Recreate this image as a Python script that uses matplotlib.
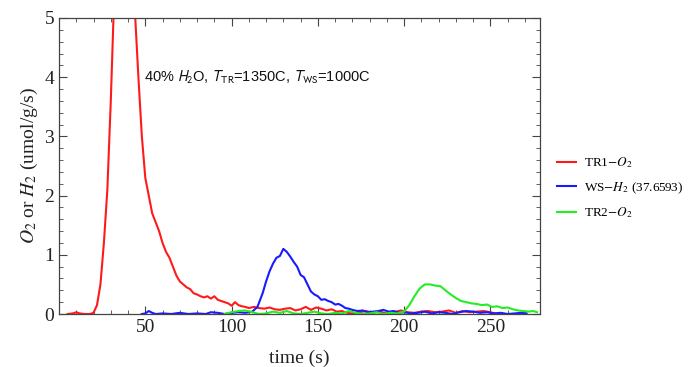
import numpy as np
import matplotlib
matplotlib.use('Agg')
import matplotlib.pyplot as plt
from matplotlib.font_manager import FontProperties
from matplotlib.ticker import MultipleLocator

# TR1 - O2 (red)
t_tr1 = [5, 8, 10, 12, 15, 18, 20, 22, 24, 26, 28, 30, 32, 35, 38, 41, 44, 46, 48, 50,
         52, 54, 56, 58, 60, 62, 64, 66, 68, 70, 72, 74, 76, 78, 80, 82, 84, 86, 88, 90,
         92, 94, 96, 98, 100, 102, 104, 106, 108, 110, 113, 116, 119, 122, 125, 128, 131,
         134, 137, 140, 143, 146, 149, 152, 155, 158, 161, 164, 167, 170, 174, 178, 182,
         186, 190, 194, 198, 202, 206, 210, 214, 218, 222, 226, 230, 234, 238, 242, 246,
         250, 254]
o2_tr1 = [0.0, 0.01, 0.03, 0.01, 0.0, 0.0, 0.02, 0.15, 0.5, 1.2, 2.1, 3.6, 5.4, 8.0, 9.5,
          7.6, 5.1, 4.0, 3.0, 2.3, 2.0, 1.7, 1.55, 1.4, 1.2, 1.05, 0.95, 0.8, 0.65, 0.55,
          0.5, 0.45, 0.42, 0.35, 0.33, 0.3, 0.28, 0.3, 0.26, 0.3, 0.24, 0.22, 0.2, 0.18,
          0.14, 0.2, 0.15, 0.13, 0.12, 0.1, 0.12, 0.1, 0.09, 0.11, 0.08, 0.07, 0.09, 0.1,
          0.06, 0.08, 0.12, 0.07, 0.11, 0.09, 0.06, 0.08, 0.04, 0.05, 0.02, 0.01, 0.03,
          0.05, 0.02, 0.04, 0.01, 0.03, 0.06, 0.03, 0.02, 0.04, 0.05, 0.03, 0.04, 0.06,
          0.02, 0.05, 0.03, 0.04, 0.05, 0.03, 0.0]

# WS - H2 (blue)
t_ws = [48, 50, 52, 54, 56, 60, 65, 70, 75, 80, 85, 88, 92, 96, 100, 104, 108, 112, 115,
        118, 120, 122, 124, 126, 128, 130, 132, 134, 136, 138, 140, 142, 144, 146, 148,
        150, 152, 154, 156, 158, 160, 162, 164, 166, 168, 170, 173, 176, 179, 182, 185,
        188, 191, 194, 197, 200, 204, 208, 212, 216, 220, 224, 228, 232, 236, 240, 244,
        248, 252, 256, 260, 264, 268, 271]
h2_ws = [0.0, 0.01, 0.05, 0.02, 0.0, 0.01, 0.0, 0.02, 0.0, 0.01, 0.0, 0.03, 0.02, 0.0,
         0.02, 0.03, 0.02, 0.04, 0.12, 0.35, 0.55, 0.72, 0.85, 0.95, 0.98, 1.1, 1.05, 0.97,
         0.88, 0.8, 0.66, 0.62, 0.5, 0.38, 0.33, 0.3, 0.24, 0.25, 0.22, 0.2, 0.16, 0.17,
         0.14, 0.1, 0.09, 0.07, 0.05, 0.06, 0.03, 0.04, 0.05, 0.07, 0.04, 0.05, 0.02, 0.03,
         0.01, 0.02, 0.04, 0.01, 0.03, 0.02, 0.0, 0.03, 0.05, 0.04, 0.02, 0.03, 0.01, 0.02,
         0.0, 0.01, 0.02, 0.01]

# TR2 - O2 (green)
t_tr2 = [96, 100, 104, 108, 112, 116, 120, 124, 128, 132, 136, 140, 144, 148, 152, 156,
         160, 164, 168, 172, 176, 180, 184, 188, 192, 196, 200, 203, 206, 209, 212, 215,
         218, 221, 224, 227, 230, 233, 236, 239, 242, 245, 248, 251, 254, 257, 260, 263,
         266, 269, 272, 275, 277]
o2_tr2 = [0.0, 0.03, 0.05, 0.06, 0.03, 0.0, 0.01, 0.04, 0.02, 0.05, 0.01, 0.0, 0.02, 0.04,
          0.01, 0.0, 0.02, 0.01, 0.05, 0.02, 0.0, 0.01, 0.03, 0.0, 0.02, 0.01, 0.04, 0.15,
          0.3, 0.43, 0.5, 0.5, 0.48, 0.47, 0.4, 0.33, 0.27, 0.22, 0.2, 0.18, 0.17, 0.15,
          0.16, 0.12, 0.13, 0.1, 0.11, 0.08, 0.06, 0.05, 0.04, 0.05, 0.03]

series_labels = [r'TR1$-O_2$', r'WS$-H_2$ (37.6593)', r'TR2$-O_2$']

fig = plt.figure(figsize=(6.88, 3.67), dpi=100)
ax = fig.add_axes([0.0858, 0.1444, 0.6997, 0.8066])

ax.plot(t_tr1, o2_tr1, color='#ff1a1a', lw=1.5, label=series_labels[0])
ax.plot(t_ws, h2_ws, color='#1a1aff', lw=1.5, label=series_labels[1])
ax.plot(t_tr2, o2_tr2, color='#22ee22', lw=1.5, label=series_labels[2])

ax.set_xlim(0, 279)
ax.set_ylim(0, 5)
ax.xaxis.set_major_locator(MultipleLocator(50))
ax.xaxis.set_minor_locator(MultipleLocator(10))
ax.yaxis.set_major_locator(MultipleLocator(1))
ax.yaxis.set_minor_locator(MultipleLocator(0.2))
ax.set_xticks([50, 100, 150, 200, 250])
ax.tick_params(which='both', direction='in', top=True, right=True, colors='#444444',
               labelcolor='#222222')
ax.tick_params(which='major', length=6, width=0.8)
ax.tick_params(which='minor', length=3, width=0.6)
for lab in ax.get_xticklabels() + ax.get_yticklabels():
    lab.set_fontfamily('Liberation Serif')
    lab.set_fontsize(14)
for sp in ax.spines.values():
    sp.set_color('#444444')
    sp.set_linewidth(0.9)

ax.set_xlabel('time (s)', family='Liberation Serif', fontsize=14, color='#222222',
              math_fontfamily='stix', labelpad=10)
ax.set_ylabel(r'$O_2$ or $H_2$ (umol/g/s)', family='Liberation Serif', fontsize=14,
              color='#222222', math_fontfamily='stix', labelpad=3)

ax.text(49, 4.0, r'40% $H_2$O, $T_{\mathrm{TR}}$=1350C, $T_{\mathrm{WS}}$=1000C',
        family='Liberation Sans', fontsize=10.5, va='center', ha='left',
        math_fontfamily='stixsans', color='#111111')

leg_font = FontProperties(family='Liberation Serif', size=9.5, math_fontfamily='stix')
ax.legend(loc='center left', bbox_to_anchor=(1.035, 0.426), frameon=False, prop=leg_font,
          borderpad=0, borderaxespad=0, handlelength=1.4, handletextpad=0.6,
          labelspacing=0.75)

fig.savefig('out.png', dpi=100)
